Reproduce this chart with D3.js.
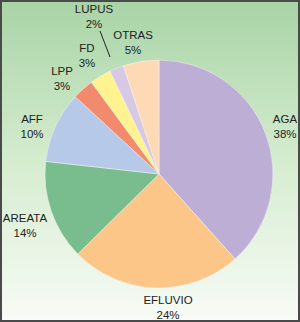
<!DOCTYPE html>
<html>
<head>
<meta charset="utf-8">
<script src="https://cdn.jsdelivr.net/npm/d3@7"></script>
<style>
  body { margin: 0; }
  svg { display: block; font-family: "Liberation Sans", Arial, sans-serif; }
</style>
</head>
<body>
<script>
const width = 300, height = 322;

const categories = ["AGA", "EFLUVIO", "AREATA", "AFF", "LPP", "FD", "LUPUS", "OTRAS"];
const values = [38, 24, 14, 10, 3, 3, 2, 5];
const colors = ["#bcaed5", "#fdc689", "#79bc8d", "#b6c9e9", "#f28a6d", "#fff391", "#d7c8e5", "#fed9b6"];
// label anchor spots (center of the two-line label)
const labelPos = [[285, 126], [168, 307], [25, 225], [32, 126], [62, 78], [87, 55], [94, 16], [133, 42]];

const svg = d3.select("body").append("svg")
  .attr("width", width)
  .attr("height", height);

const grad = svg.append("defs").append("linearGradient")
  .attr("id", "bg").attr("x1", 0).attr("y1", 0).attr("x2", 0).attr("y2", 1);
grad.append("stop").attr("offset", "0%").attr("stop-color", "#a8d4a6");
grad.append("stop").attr("offset", "50%").attr("stop-color", "#d5eccf");
grad.append("stop").attr("offset", "100%").attr("stop-color", "#f8fbf6");

svg.append("rect")
  .attr("x", 1).attr("y", 1)
  .attr("width", width - 2).attr("height", height - 2)
  .attr("fill", "url(#bg)")
  .attr("stroke", "#4a4a4a")
  .attr("stroke-width", 2);

const cx = 159, cy = 174, r = 114;

const pie = d3.pie().sort(null).value(d => d);
const arc = d3.arc().innerRadius(0).outerRadius(r);
const arcs = pie(values);

const g = svg.append("g").attr("transform", `translate(${cx},${cy})`);
g.selectAll("path")
  .data(arcs)
  .enter().append("path")
  .attr("d", arc)
  .attr("fill", (d, i) => colors[i])
  .attr("stroke", "#f4f4ee")
  .attr("stroke-width", 0.5);

// leader line for LUPUS
svg.append("line")
  .attr("x1", 100).attr("y1", 31)
  .attr("x2", 110).attr("y2", 57)
  .attr("stroke", "#222").attr("stroke-width", 1);

const lab = svg.selectAll(".lab")
  .data(categories)
  .enter().append("text")
  .attr("class", "lab")
  .attr("text-anchor", "middle")
  .attr("font-size", 11.5)
  .attr("fill", "#222");

lab.append("tspan")
  .attr("x", (d, i) => labelPos[i][0])
  .attr("y", (d, i) => labelPos[i][1] - 3)
  .text(d => d);
lab.append("tspan")
  .attr("x", (d, i) => labelPos[i][0])
  .attr("y", (d, i) => labelPos[i][1] + 12)
  .text((d, i) => values[i] + "%");
</script>
</body>
</html>
